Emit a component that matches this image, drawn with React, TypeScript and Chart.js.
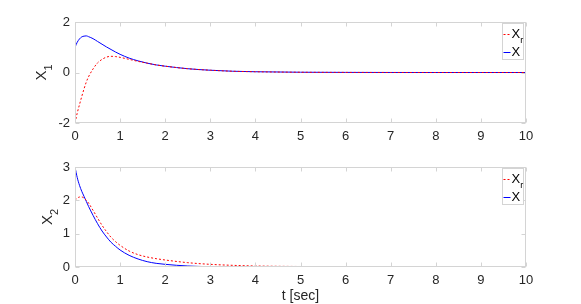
import React, { useEffect, useRef } from 'react';
import { Chart, registerables } from 'chart.js';

Chart.register(...registerables);

// time samples [sec]
const T = [0, 0.05, 0.1, 0.15, 0.2, 0.25, 0.3, 0.4, 0.5, 0.6, 0.7, 0.8, 0.9, 1.0, 1.2, 1.4, 1.6, 1.8, 2.0, 2.5, 3, 3.5, 4, 5, 6, 7, 8, 9, 10];
// state 1: reference (Xr) and actual (X)
const X1_REF = [-2.0, -1.6, -1.27, -0.95, -0.65, -0.38, -0.17, 0.14, 0.38, 0.52, 0.61, 0.64, 0.63, 0.6, 0.52, 0.44, 0.37, 0.3, 0.25, 0.15, 0.09, 0.05, 0.03, 0.01, 0.004, 0.001, 0, 0, 0];
const X1 = [1.0, 1.2, 1.33, 1.41, 1.44, 1.45, 1.42, 1.34, 1.23, 1.12, 1.01, 0.91, 0.81, 0.72, 0.57, 0.46, 0.37, 0.3, 0.25, 0.15, 0.09, 0.05, 0.03, 0.01, 0.004, 0.001, 0, 0, 0];
// state 2: reference (Xr) and actual (X)
const X2_REF = [2.0, 2.06, 2.1, 2.1, 2.07, 2.0, 1.92, 1.7, 1.47, 1.25, 1.06, 0.89, 0.76, 0.65, 0.48, 0.37, 0.3, 0.25, 0.21, 0.13, 0.08, 0.05, 0.03, 0.015, 0.01, 0.005, 0, 0, 0];
const X2 = [3.0, 2.68, 2.45, 2.27, 2.12, 1.97, 1.82, 1.55, 1.3, 1.08, 0.9, 0.74, 0.62, 0.51, 0.35, 0.24, 0.16, 0.11, 0.08, 0.03, 0.01, 0.005, 0, 0, 0, 0, 0, 0, 0];

const X_MIN = 0;
const X_MAX = 10;
const Y1_RANGE = [-2, 2];
const Y2_RANGE = [0, 3];
const X_LABEL = 't [sec]';
const LEGEND_MAIN = ['X', 'X'];
const LEGEND_SUB = ['r', ''];

const FONT = '"Liberation Sans", Arial, Helvetica, sans-serif';
const GRAY = '#d4d4d4';
const TEXT = '#262626';
const RED = '#ff0000';
const BLUE = '#0000ff';

function pts(ys: number[]) {
  return T.map((t, i) => ({ x: t, y: ys[i] }));
}

const axesBox = {
  id: 'axesBox',
  afterDatasetsDraw(chart: any) {
    const { ctx, chartArea, scales } = chart;
    const { left, right, top, bottom } = chartArea;
    const L = Math.round(left) + 0.5, R = Math.round(right) - 0.5;
    const Tp = Math.round(top) + 0.5, B = Math.round(bottom) - 0.5;
    ctx.save();
    ctx.strokeStyle = GRAY;
    ctx.lineWidth = 1;
    ctx.strokeRect(L, Tp, R - L, B - Tp);
    const len = 4;
    ctx.beginPath();
    scales.x.ticks.forEach((t: any) => {
      const px = Math.round(scales.x.getPixelForValue(t.value)) + 0.5;
      ctx.moveTo(px, B); ctx.lineTo(px, B - len);
      ctx.moveTo(px, Tp); ctx.lineTo(px, Tp + len);
    });
    scales.y.ticks.forEach((t: any) => {
      const py = Math.round(scales.y.getPixelForValue(t.value)) + 0.5;
      ctx.moveTo(L, py); ctx.lineTo(L + len, py);
      ctx.moveTo(R, py); ctx.lineTo(R - len, py);
    });
    ctx.stroke();
    ctx.restore();
  },
};

const subLegend = {
  id: 'subLegend',
  afterDraw(chart: any) {
    const { ctx, chartArea } = chart;
    const w = 21, h = 36;
    const bx = Math.round(chartArea.right) - 3 - w + 0.5;
    const by = Math.round(chartArea.top) + 1.5;
    ctx.save();
    ctx.fillStyle = '#ffffff';
    ctx.fillRect(bx, by, w, h);
    ctx.strokeStyle = GRAY;
    ctx.lineWidth = 1;
    ctx.strokeRect(bx, by, w, h);
    const rows = [by + 10, by + 28];
    chart.data.datasets.forEach((ds: any, i: number) => {
      const y = Math.round(rows[i]) + 0.5;
      ctx.strokeStyle = ds.borderColor;
      ctx.setLineDash(ds.borderDash || []);
      ctx.beginPath();
      ctx.moveTo(bx + 1, y);
      ctx.lineTo(bx + 8, y);
      ctx.stroke();
      ctx.setLineDash([]);
      ctx.fillStyle = '#000000';
      ctx.textBaseline = 'middle';
      ctx.textAlign = 'left';
      ctx.font = `13px ${FONT}`;
      ctx.fillText(LEGEND_MAIN[i], bx + 9, y);
      const mw = ctx.measureText(LEGEND_MAIN[i]).width;
      if (LEGEND_SUB[i]) {
        ctx.font = `9px ${FONT}`;
        ctx.fillText(LEGEND_SUB[i], bx + 9 + mw, y + 6);
      }
    });
    ctx.restore();
  },
};

const axisTitles = {
  id: 'axisTitles',
  afterDraw(chart: any, _a: any, opts: any) {
    const { ctx, chartArea } = chart;
    const cy = (chartArea.top + chartArea.bottom) / 2 + (opts.dy || 0);
    ctx.save();
    ctx.translate(opts.x, cy);
    ctx.rotate(-Math.PI / 2);
    ctx.fillStyle = TEXT;
    ctx.textBaseline = 'middle';
    ctx.textAlign = 'left';
    ctx.font = `15px ${FONT}`;
    const wm = ctx.measureText(opts.main).width;
    ctx.font = `11px ${FONT}`;
    const ws = ctx.measureText(opts.sub).width;
    const start = -(wm + ws) / 2;
    ctx.font = `15px ${FONT}`;
    ctx.fillText(opts.main, start, 0);
    ctx.font = `11px ${FONT}`;
    ctx.fillText(opts.sub, start + wm, 7);
    ctx.restore();
    if (opts.xlabel) {
      ctx.save();
      ctx.fillStyle = TEXT;
      ctx.font = `14px ${FONT}`;
      ctx.textAlign = 'center';
      ctx.textBaseline = 'middle';
      ctx.fillText(opts.xlabel, (chartArea.left + chartArea.right) / 2, chart.height - 8);
      ctx.restore();
    }
  },
};

function makeConfig(ref: number[], act: number[], yr: number[], step: number, padTop: number, xH: number, titles: any): any {
  return {
    type: 'line',
    data: {
      datasets: [
        { label: 'Xr', data: pts(ref), borderColor: RED, borderWidth: 1, borderDash: [2, 2], pointRadius: 0, cubicInterpolationMode: 'monotone', fill: false },
        { label: 'X', data: pts(act), borderColor: BLUE, borderWidth: 1, pointRadius: 0, cubicInterpolationMode: 'monotone', fill: false },
      ],
    },
    options: {
      responsive: false,
      animation: false,
      events: [],
      layout: { padding: { left: 0, right: 55, top: padTop, bottom: 0 } },
      plugins: {
        legend: { display: false },
        tooltip: { enabled: false },
        axisTitles: titles,
      },
      scales: {
        x: {
          type: 'linear',
          min: X_MIN,
          max: X_MAX,
          grid: { display: false, drawTicks: false },
          border: { display: false },
          ticks: { stepSize: 1, color: TEXT, font: { family: FONT, size: 13 }, padding: 6, maxRotation: 0 },
          afterFit: (s: any) => { s.height = xH; },
        },
        y: {
          type: 'linear',
          min: yr[0],
          max: yr[1],
          grid: { display: false, drawTicks: false },
          border: { display: false },
          ticks: { stepSize: step, color: TEXT, font: { family: FONT, size: 13 }, padding: 5 },
          afterFit: (s: any) => { s.width = 75; },
        },
      },
    },
    plugins: [axesBox, subLegend, axisTitles],
  };
}

export default function App() {
  const c1 = useRef<HTMLCanvasElement>(null);
  const c2 = useRef<HTMLCanvasElement>(null);
  useEffect(() => {
    const a = new Chart(c1.current as any, makeConfig(X1_REF, X1, Y1_RANGE, 2, 22, 27, { main: 'X', sub: '1', x: 42, dy: 0 }));
    const b = new Chart(c2.current as any, makeConfig(X2_REF, X2, Y2_RANGE, 1, 17, 37, { main: 'X', sub: '2', x: 48, dy: 0, xlabel: X_LABEL }));
    return () => { a.destroy(); b.destroy(); };
  }, []);
  return (
    <div style={{ position: 'fixed', left: 0, top: 0, width: 581, height: 304, background: '#fff' }}>
      <canvas ref={c1} width={581} height={150} style={{ position: 'absolute', left: 0, top: 0 }} />
      <canvas ref={c2} width={581} height={154} style={{ position: 'absolute', left: 0, top: 150 }} />
    </div>
  );
}
